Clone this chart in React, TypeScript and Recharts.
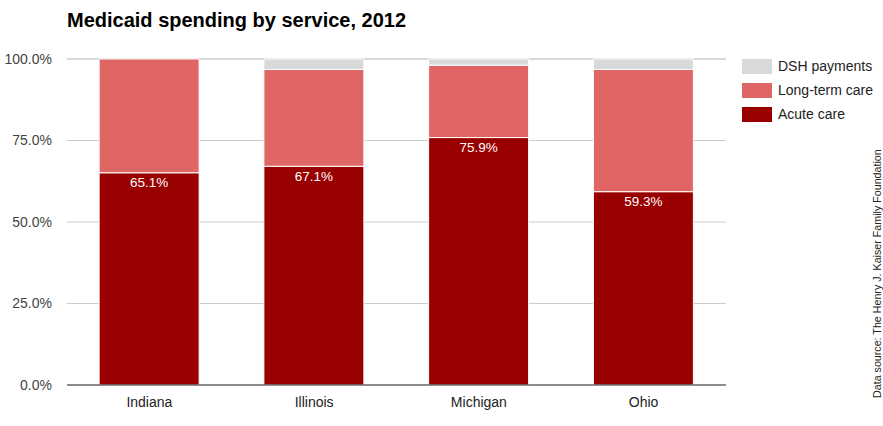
import React from 'react';
import { BarChart, Bar, XAxis, YAxis, CartesianGrid, LabelList } from 'recharts';

const states = ['Indiana', 'Illinois', 'Michigan', 'Ohio'];
const acuteCare = [65.1, 67.1, 75.9, 59.3];
const longTermCare = [34.9, 29.7, 22.2, 37.5];
const dshPayments = [0, 3.2, 1.9, 3.2];
const yTicks = [0, 25, 50, 75, 100];

const data = states.map((s, i) => ({
  state: s,
  acute: acuteCare[i],
  ltc: longTermCare[i],
  dsh: dshPayments[i],
}));

const FONT = "Arial, 'Liberation Sans', sans-serif";

const legendItems = [
  { label: 'DSH payments', color: '#d9d9d9' },
  { label: 'Long-term care', color: '#e06666' },
  { label: 'Acute care', color: '#990000' },
];

export default function App() {
  return (
    <div style={{ position: 'absolute', left: 0, top: 0, width: 883, height: 426, background: '#fff' }}>
      <div
        style={{
          position: 'absolute',
          left: 67,
          top: 9,
          fontFamily: FONT,
          fontWeight: 'bold',
          fontSize: 20,
          color: '#000',
          whiteSpace: 'nowrap',
        }}
      >
        Medicaid spending by service, 2012
      </div>
      <BarChart
        width={883}
        height={426}
        data={data}
        margin={{ top: 59, right: 157, bottom: 0, left: 7 }}
        barCategoryGap="19.5%"
      >
        <CartesianGrid vertical={false} stroke="#cccccc" />
        <XAxis
          dataKey="state"
          height={41}
          tickLine={false}
          tickSize={0}
          tickMargin={12}
          axisLine={{ stroke: '#333333' }}
          tick={{ fill: '#222', fontSize: 14, fontFamily: FONT }}
        />
        <YAxis
          width={60}
          domain={[0, 100]}
          ticks={yTicks}
          tickFormatter={(v: number) => v.toFixed(1) + '%'}
          axisLine={false}
          tickLine={false}
          tickSize={0}
          tickMargin={15}
          tick={{ fill: '#444', fontSize: 14, fontFamily: FONT }}
        />
        <Bar dataKey="acute" stackId="a" fill="#990000" stroke="#ffffff" strokeWidth={1} isAnimationActive={false}>
          <LabelList
            dataKey="acute"
            position="insideTop"
            offset={5}
            formatter={(v: number) => v.toFixed(1) + '%'}
            style={{ fill: '#ffffff', fontSize: 13.5, fontFamily: FONT }}
          />
        </Bar>
        <Bar dataKey="ltc" stackId="a" fill="#e06666" stroke="#ffffff" strokeWidth={1} isAnimationActive={false} />
        <Bar dataKey="dsh" stackId="a" fill="#d9d9d9" stroke="#ffffff" strokeWidth={1} isAnimationActive={false} />
      </BarChart>
      <div
        style={{
          position: 'absolute',
          left: 742,
          top: 54,
          fontFamily: FONT,
          fontSize: 14,
          color: '#222',
        }}
      >
        {legendItems.map((it) => (
          <div key={it.label} style={{ display: 'flex', alignItems: 'center', height: 24, whiteSpace: 'nowrap' }}>
            <div style={{ width: 30, height: 15, background: it.color, marginRight: 6 }} />
            <span>{it.label}</span>
          </div>
        ))}
      </div>
      <svg style={{ position: 'absolute', left: 0, top: 0, pointerEvents: 'none' }} width={883} height={426}>
        <text
          x={881}
          y={398}
          transform="rotate(-90 881 398)"
          fontFamily={FONT}
          fontSize={10.7}
          fill="#222"
          textAnchor="start"
        >
          Data source: The Henry J. Kaiser Family Foundation
        </text>
      </svg>
    </div>
  );
}
